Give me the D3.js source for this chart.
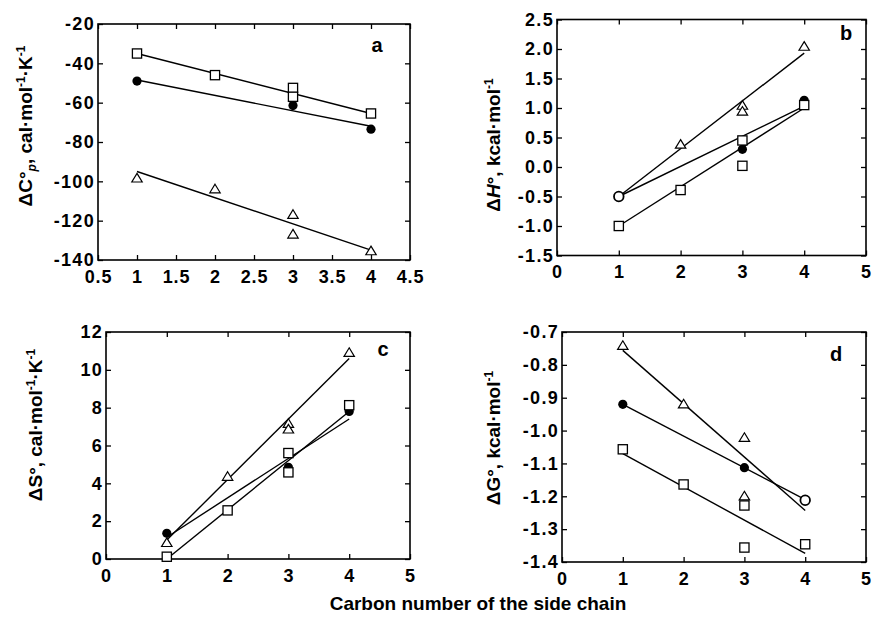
<!DOCTYPE html>
<html><head><meta charset="utf-8">
<script src="https://cdn.jsdelivr.net/npm/d3@7"></script>
<style>body{margin:0;background:#fff}svg{display:block}</style>
</head><body><svg id="chart" width="875" height="626"></svg>
<script>
// ---------- data ----------
const carbonTicksA = [0.5, 1, 1.5, 2, 2.5, 3, 3.5, 4, 4.5];
const carbonTicks = [0, 1, 2, 3, 4, 5];
const cpTicks = [-140, -120, -100, -80, -60, -40, -20];
const hTicks = [-1.5, -1.0, -0.5, 0.0, 0.5, 1.0, 1.5, 2.0, 2.5];
const sTicks = [0, 2, 4, 6, 8, 10, 12];
const gTicks = [-1.4, -1.3, -1.2, -1.1, -1.0, -0.9, -0.8, -0.7];

// panel a: heat capacity
const cpCircle   = [[1, -49], [3, -61.5], [4, -73.5]];
const cpSquare   = [[1, -35], [2, -46], [3, -52.5], [3, -57], [4, -65.5]];
const cpTriangle = [[1, -98.5], [2, -104], [3, -117], [3, -127], [4, -135.5]];
const cpOpen     = [];
const cpFitCircle   = [[1, -48.5], [4, -72]];
const cpFitSquare   = [[1, -35], [4, -65.5]];
const cpFitTriangle = [[1, -95], [4, -135]];

// panel b: enthalpy
const hCircle   = [[3, 0.30], [4, 1.13]];
const hSquare   = [[1, -1.0], [2, -0.39], [3, 0.45], [3, 0.02], [4, 1.05]];
const hTriangle = [[2, 0.38], [3, 1.04], [3, 0.94], [4, 2.04]];
const hOpen     = [[1, -0.5]];
const hFitCircle   = [[1, -0.5], [4, 1.03]];
const hFitSquare   = [[1, -1.0], [4, 1.0]];
const hFitTriangle = [[1, -0.5], [4, 1.93]];

// panel c: entropy
const sCircle   = [[1, 1.36], [3, 4.85], [4, 7.8]];
const sSquare   = [[1, 0.12], [2, 2.57], [3, 5.6], [3, 4.58], [4, 8.13]];
const sTriangle = [[1, 0.85], [2, 4.35], [3, 7.15], [3, 6.85], [4, 10.9]];
const sOpen     = [];
const sFitCircle   = [[1, 1.15], [4, 7.4]];
const sFitSquare   = [[1, 0.0], [4, 7.8]];
const sFitTriangle = [[1, 1.0], [4, 10.6]];

// panel d: free energy
const gCircle   = [[1, -0.92], [3, -1.113]];
const gSquare   = [[1, -1.057], [2, -1.164], [3, -1.228], [3, -1.356], [4, -1.346]];
const gTriangle = [[1, -0.742], [2, -0.92], [3, -1.022], [3, -1.20]];
const gOpen     = [[4, -1.212]];
const gFitCircle   = [[1, -0.92], [4, -1.21]];
const gFitSquare   = [[1, -1.07], [4, -1.374]];
const gFitTriangle = [[1, -0.756], [4, -1.243]];

const xTitle = "Carbon number of the side chain";

// ---------- layout ----------
const svg = d3.select("#chart");
const FONT = "'Liberation Sans', Arial, Helvetica, sans-serif";
const fmt1 = d => d.toFixed(1).replace("\u2212", "-");
const fmtPlain = d => String(d);

const panels = [
  { letter: "a", box: [98, 24, 410, 260], xd: [0.5, 4.5], yd: [-140, -20],
    xt: carbonTicksA, yt: cpTicks, fx: fmtPlain, fy: fmtPlain,
    circle: cpCircle, square: cpSquare, tri: cpTriangle, open: cpOpen,
    fits: [cpFitCircle, cpFitSquare, cpFitTriangle],
    label: [{t: "\u0394C"}, {t: "\u00b0"}, {t: "p", it: true, sub: true}, {t: ", cal\u00b7mol"}, {t: "-1", sup: true}, {t: "\u00b7K"}, {t: "-1", sup: true}],
    lx: 32, ly: 126, lt: [377, 52] },
  { letter: "b", box: [557, 19.5, 866, 255.5], xd: [0, 5], yd: [-1.5, 2.5],
    xt: carbonTicks, yt: hTicks, fx: fmtPlain, fy: fmt1,
    circle: hCircle, square: hSquare, tri: hTriangle, open: hOpen,
    fits: [hFitCircle, hFitSquare, hFitTriangle],
    label: [{t: "\u0394"}, {t: "H", it: true}, {t: "\u00b0, kcal\u00b7mol"}, {t: "-1", sup: true}],
    lx: 500, ly: 145, lt: [846, 40] },
  { letter: "c", box: [106, 332, 410, 559], xd: [0, 5], yd: [0, 12],
    xt: carbonTicks, yt: sTicks, fx: fmtPlain, fy: fmtPlain,
    circle: sCircle, square: sSquare, tri: sTriangle, open: sOpen,
    fits: [sFitCircle, sFitSquare, sFitTriangle],
    label: [{t: "\u0394S\u00b0, cal\u00b7mol"}, {t: "-1", sup: true}, {t: "\u00b7K"}, {t: "-1", sup: true}],
    lx: 42, ly: 425, lt: [383, 356] },
  { letter: "d", box: [562, 332, 866, 562], xd: [0, 5], yd: [-1.4, -0.7],
    xt: carbonTicks, yt: gTicks, fx: fmtPlain, fy: fmt1,
    circle: gCircle, square: gSquare, tri: gTriangle, open: gOpen,
    fits: [gFitCircle, gFitSquare, gFitTriangle],
    label: [{t: "\u0394G\u00b0, kcal\u00b7mol"}, {t: "-1", sup: true}],
    lx: 500, ly: 438, lt: [836, 361] }
];

panels.forEach(p => {
  const [x0, y0, x1, y1] = p.box;
  const x = d3.scaleLinear().domain(p.xd).range([x0, x1]);
  const y = d3.scaleLinear().domain(p.yd).range([y1, y0]);
  const g = svg.append("g");

  const styleAxis = sel => {
    sel.select(".domain").remove();
    sel.selectAll(".tick line").attr("stroke", "#000").attr("stroke-width", 1.3);
    sel.selectAll("text").attr("font-family", FONT).attr("font-weight", "bold")
      .attr("font-size", 18).attr("fill", "#000");
  };
  g.append("g").attr("transform", `translate(0,${y1})`)
    .call(d3.axisBottom(x).tickValues(p.xt).tickFormat(p.fx).tickSize(-5).tickPadding(10))
    .call(styleAxis)
    .call(s => s.selectAll("text").attr("letter-spacing", 0.8));
  g.append("g").attr("transform", `translate(0,${y0})`)
    .call(d3.axisTop(x).tickValues(p.xt).tickFormat("").tickSize(-5))
    .call(styleAxis);
  g.append("g").attr("transform", `translate(${x0},0)`)
    .call(d3.axisLeft(y).tickValues(p.yt).tickFormat(p.fy).tickSize(-5).tickPadding(3))
    .call(styleAxis)
    .call(s => s.selectAll("text").attr("letter-spacing", 1.3));
  g.append("g").attr("transform", `translate(${x1},0)`)
    .call(d3.axisRight(y).tickValues(p.yt).tickFormat("").tickSize(-5))
    .call(styleAxis);

  g.append("rect").attr("x", x0).attr("y", y0).attr("width", x1 - x0).attr("height", y1 - y0)
    .attr("fill", "none").attr("stroke", "#000").attr("stroke-width", 1.6);

  const line = d3.line().x(d => x(d[0])).y(d => y(d[1]));
  p.fits.forEach(f => {
    g.append("path").attr("d", line(f)).attr("fill", "none")
      .attr("stroke", "#000").attr("stroke-width", 1.4);
  });

  g.selectAll(".cir").data(p.circle).join("circle")
    .attr("cx", d => x(d[0])).attr("cy", d => y(d[1])).attr("r", 4.6).attr("fill", "#000");
  g.selectAll(".tri").data(p.tri).join("path")
    .attr("d", d => { const cx = x(d[0]), cy = y(d[1]);
      return `M${cx},${cy - 5}L${cx + 5.2},${cy + 3.6}L${cx - 5.2},${cy + 3.6}Z`; })
    .attr("fill", "#fff").attr("stroke", "#000").attr("stroke-width", 1.2);
  g.selectAll(".sq").data(p.square).join("rect")
    .attr("x", d => x(d[0]) - 4.6).attr("y", d => y(d[1]) - 4.6)
    .attr("width", 9.2).attr("height", 9.2)
    .attr("fill", "#fff").attr("stroke", "#000").attr("stroke-width", 1.3);
  g.selectAll(".oc").data(p.open).join("circle")
    .attr("cx", d => x(d[0])).attr("cy", d => y(d[1])).attr("r", 4.8)
    .attr("fill", "#fff").attr("stroke", "#000").attr("stroke-width", 1.8);

  g.append("text").attr("x", p.lt[0]).attr("y", p.lt[1]).attr("text-anchor", "middle")
    .attr("font-family", FONT).attr("font-weight", "bold").attr("font-size", 20).text(p.letter);

  const t = g.append("text").attr("transform", `translate(${p.lx},${p.ly}) rotate(-90)`)
    .attr("text-anchor", "middle").attr("font-family", FONT).attr("font-weight", "bold")
    .attr("font-size", 19);
  let shift = 0;
  p.label.forEach(part => {
    const target = part.sup ? -7 : part.sub ? 4 : 0;
    const ts = t.append("tspan").text(part.t).attr("dy", target - shift);
    shift = target;
    if (part.sup || part.sub) ts.attr("font-size", 12);
    if (part.it) ts.attr("font-style", "italic");
  });
});

svg.append("text").attr("x", 478).attr("y", 610).attr("text-anchor", "middle")
  .attr("font-family", FONT).attr("font-weight", "bold").attr("font-size", 19).text(xTitle);
</script></body></html>
